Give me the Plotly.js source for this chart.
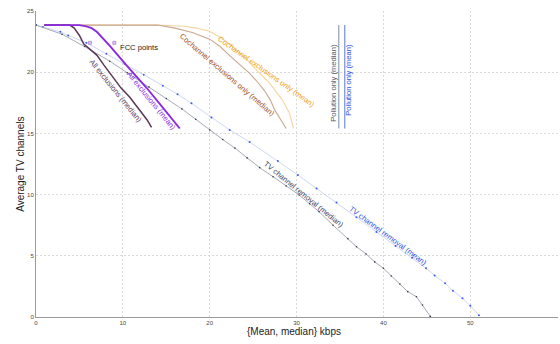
<!DOCTYPE html>
<html>
<head>
<meta charset="utf-8">
<script src="https://cdn.plot.ly/plotly-3.0.1.min.js"></script>
<style>
  html, body { margin: 0; padding: 0; background: #fff; }
  #chart { width: 560px; height: 344px; }
</style>
</head>
<body>
<div id="chart"></div>
<script>
// TV channel removal — mean throughput vs remaining channels
const tvMeanX = [0, 0.8, 2.8, 3.7, 5.8, 8.1, 10.2, 12.4, 14.6, 16.3, 17.9, 20.2, 22.3, 24.6, 27.85, 30.15, 32.3, 34.6, 36.9, 39.2, 41.4, 43.3, 44.9, 45.9, 47.1, 48.0, 49.1, 50.0, 51.0];
const tvMeanY = [23.85, 23.7, 23.3, 23.0, 22.4, 21.5, 20.7, 19.8, 18.9, 18.2, 17.46, 16.3, 15.28, 14.3, 12.75, 11.6, 10.5, 9.35, 8.15, 6.95, 5.8, 4.85, 3.98, 3.4, 2.75, 2.15, 1.53, 0.92, 0.15];

// TV channel removal — median
const tvMedX = [0, 3.0, 5.6, 8.5, 10.5, 13.0, 15.0, 16.8, 18.4, 20.0, 21.5, 22.9, 24.3, 25.75, 27.3, 28.8, 30.3, 31.5, 32.6, 34.2, 35.9, 36.9, 38.0, 39.0, 40.0, 40.9, 41.9, 42.8, 43.8, 44.5, 45.4];
const tvMedY = [23.85, 23.1, 22.1, 20.9, 19.95, 18.8, 17.85, 17.0, 16.15, 15.28, 14.5, 13.8, 13.0, 12.2, 11.46, 10.7, 9.97, 9.25, 8.6, 7.5, 6.4, 5.74, 5.15, 4.5, 3.98, 3.35, 2.7, 2.07, 1.66, 0.98, 0.05];

// Cochannel exclusions only
const coMeanX = [0.95, 14.0, 17.0, 18.5, 20.0, 21.2, 22.3, 23.1, 24.6, 25.0, 26.5, 26.9, 28.4, 29.2, 29.65];
const coMeanY = [23.85, 23.85, 23.75, 23.6, 23.35, 22.85, 22.3, 21.8, 20.8, 20.45, 19.4, 19.1, 17.7, 16.6, 15.4];
const coMedX = [0.95, 14.0, 16.0, 18.0, 20.0, 21.2, 22.3, 23.5, 24.6, 25.5, 26.3, 27.0, 27.5, 28.2, 28.8];
const coMedY = [23.85, 23.85, 23.6, 23.25, 22.7, 22.1, 21.35, 20.6, 19.9, 19.2, 18.5, 17.7, 16.9, 16.1, 15.4];

// All exclusions
const allMeanX = [0.95, 5.0, 5.8, 6.4, 7.0, 7.7, 8.5, 10.5, 12.7, 14.6, 16.55];
const allMeanY = [23.85, 23.85, 23.75, 23.6, 23.3, 22.8, 22.15, 20.5, 18.75, 17.1, 15.4];
const allMedX = [0.95, 3.9, 4.4, 5.0, 5.5, 6.2, 7.0, 7.8, 8.9, 9.8, 10.8, 11.6, 12.3, 12.8, 13.3];
const allMedY = [23.85, 23.85, 23.6, 23.0, 22.3, 21.9, 21.4, 20.6, 19.6, 18.7, 17.95, 17.2, 16.6, 16.1, 15.5];

// Pollution only (vertical segments)
const polMedX = [34.86, 34.86];
const polMedY = [23.85, 15.4];
const polMeanX = [35.55, 35.55];
const polMeanY = [23.85, 15.4];

// FCC reference points
const fccX = [6.22, 9.02];
const fccY = [22.4, 22.4];

// Curve labels
const labelText = [
  'All exclusions (median)', 'All exclusions (mean)',
  'Cochannel exclusions only (median)', 'Cochannel exclusions only (mean)',
  'TV channel removal (median)', 'TV channel removal (mean)',
  'Pollution only (median)', 'Pollution only (mean)', 'FCC points'
];
const labelX = [9.21, 13.24, 21.96, 26.49, 30.86, 40.48, 34.32, 36.05, 9.44];
const labelY = [18.41, 17.67, 19.8, 20.04, 10.04, 6.66, 19.14, 19.39, 22.0];
const labelAngle = [51, 50.7, 40.7, 35.3, 39, 36.3, -90, -90, 0];
const labelColor = ['#5b3a5b', '#8a2be2', '#a0522d', '#f0a020', '#3a4262', '#2a52e6', '#555a66', '#2a52e6', '#222222'];

const FONT = 'Liberation Sans, Arial, Helvetica, sans-serif';

const traces = [
  { x: coMeanX, y: coMeanY, mode: 'lines', line: { color: '#f4d4a2', width: 1.1 } },
  { x: coMedX, y: coMedY, mode: 'lines', line: { color: '#c9a891', width: 1.1 } },
  { x: tvMeanX, y: tvMeanY, mode: 'lines+markers', line: { color: '#c2cdef', width: 0.8 },
    marker: { color: '#3a5cf0', size: 2 } },
  { x: tvMedX, y: tvMedY, mode: 'lines+markers', line: { color: '#9ba1ab', width: 0.9 },
    marker: { color: '#2e3442', size: 1.6 } },
  { x: allMedX, y: allMedY, mode: 'lines', line: { color: '#5b3656', width: 1.5 } },
  { x: allMeanX, y: allMeanY, mode: 'lines', line: { color: '#8a2be2', width: 1.9 } },
  { x: polMedX, y: polMedY, mode: 'lines', line: { color: '#8b96ad', width: 1.1 } },
  { x: polMeanX, y: polMeanY, mode: 'lines', line: { color: '#6a86d8', width: 1.1 } },
  { x: fccX, y: fccY, mode: 'markers',
    marker: { symbol: 'square', size: 3, color: '#dcc4f0', line: { color: '#b088d8', width: 0.8 } } }
];

const annotations = labelText.map((t, i) => ({
  x: labelX[i], y: labelY[i], xref: 'x', yref: 'y',
  text: t, showarrow: false, textangle: labelAngle[i],
  xanchor: labelAngle[i] === 0 ? 'left' : 'center', yanchor: 'middle',
  font: { family: FONT, size: 7.6, color: labelColor[i] }
}));

// axis titles, placed close to the tick labels
annotations.push({
  xref: 'paper', yref: 'paper', x: -0.031, y: 0.5,
  xanchor: 'center', yanchor: 'middle', textangle: -90, showarrow: false,
  text: 'Average TV channels',
  font: { family: FONT, size: 10, color: '#222' }
});
annotations.push({
  xref: 'paper', yref: 'paper', x: 0.495, y: -0.049,
  xanchor: 'center', yanchor: 'middle', showarrow: false,
  text: '{Mean, median} kbps',
  font: { family: FONT, size: 10, color: '#222' }
});

const layout = {
  width: 560, height: 344,
  margin: { l: 36, r: 2, t: 11, b: 27, pad: 0 },
  paper_bgcolor: '#ffffff', plot_bgcolor: '#ffffff',
  showlegend: false,
  font: { family: FONT, color: '#333' },
  xaxis: {
    range: [0, 60.1], dtick: 10, tick0: 0,
    showline: true, linecolor: '#9a9a9a', linewidth: 1,
    showgrid: true, gridcolor: '#d9d9d9', griddash: '2px,2px', gridwidth: 1,
    zeroline: false, ticks: '', ticklabelstandoff: 0,
    tickfont: { family: FONT, size: 6, color: '#444' },
    automargin: false
  },
  yaxis: {
    range: [0, 25], dtick: 5, tick0: 0,
    showline: true, linecolor: '#9a9a9a', linewidth: 1,
    showgrid: true, gridcolor: '#d9d9d9', griddash: '2px,2px', gridwidth: 1,
    zeroline: false, ticks: '', ticklabelstandoff: 0,
    tickfont: { family: FONT, size: 6, color: '#444' },
    automargin: false
  },
  annotations: annotations
};

Plotly.newPlot('chart', traces, layout, { displayModeBar: false, staticPlot: true });
</script>
</body>
</html>
